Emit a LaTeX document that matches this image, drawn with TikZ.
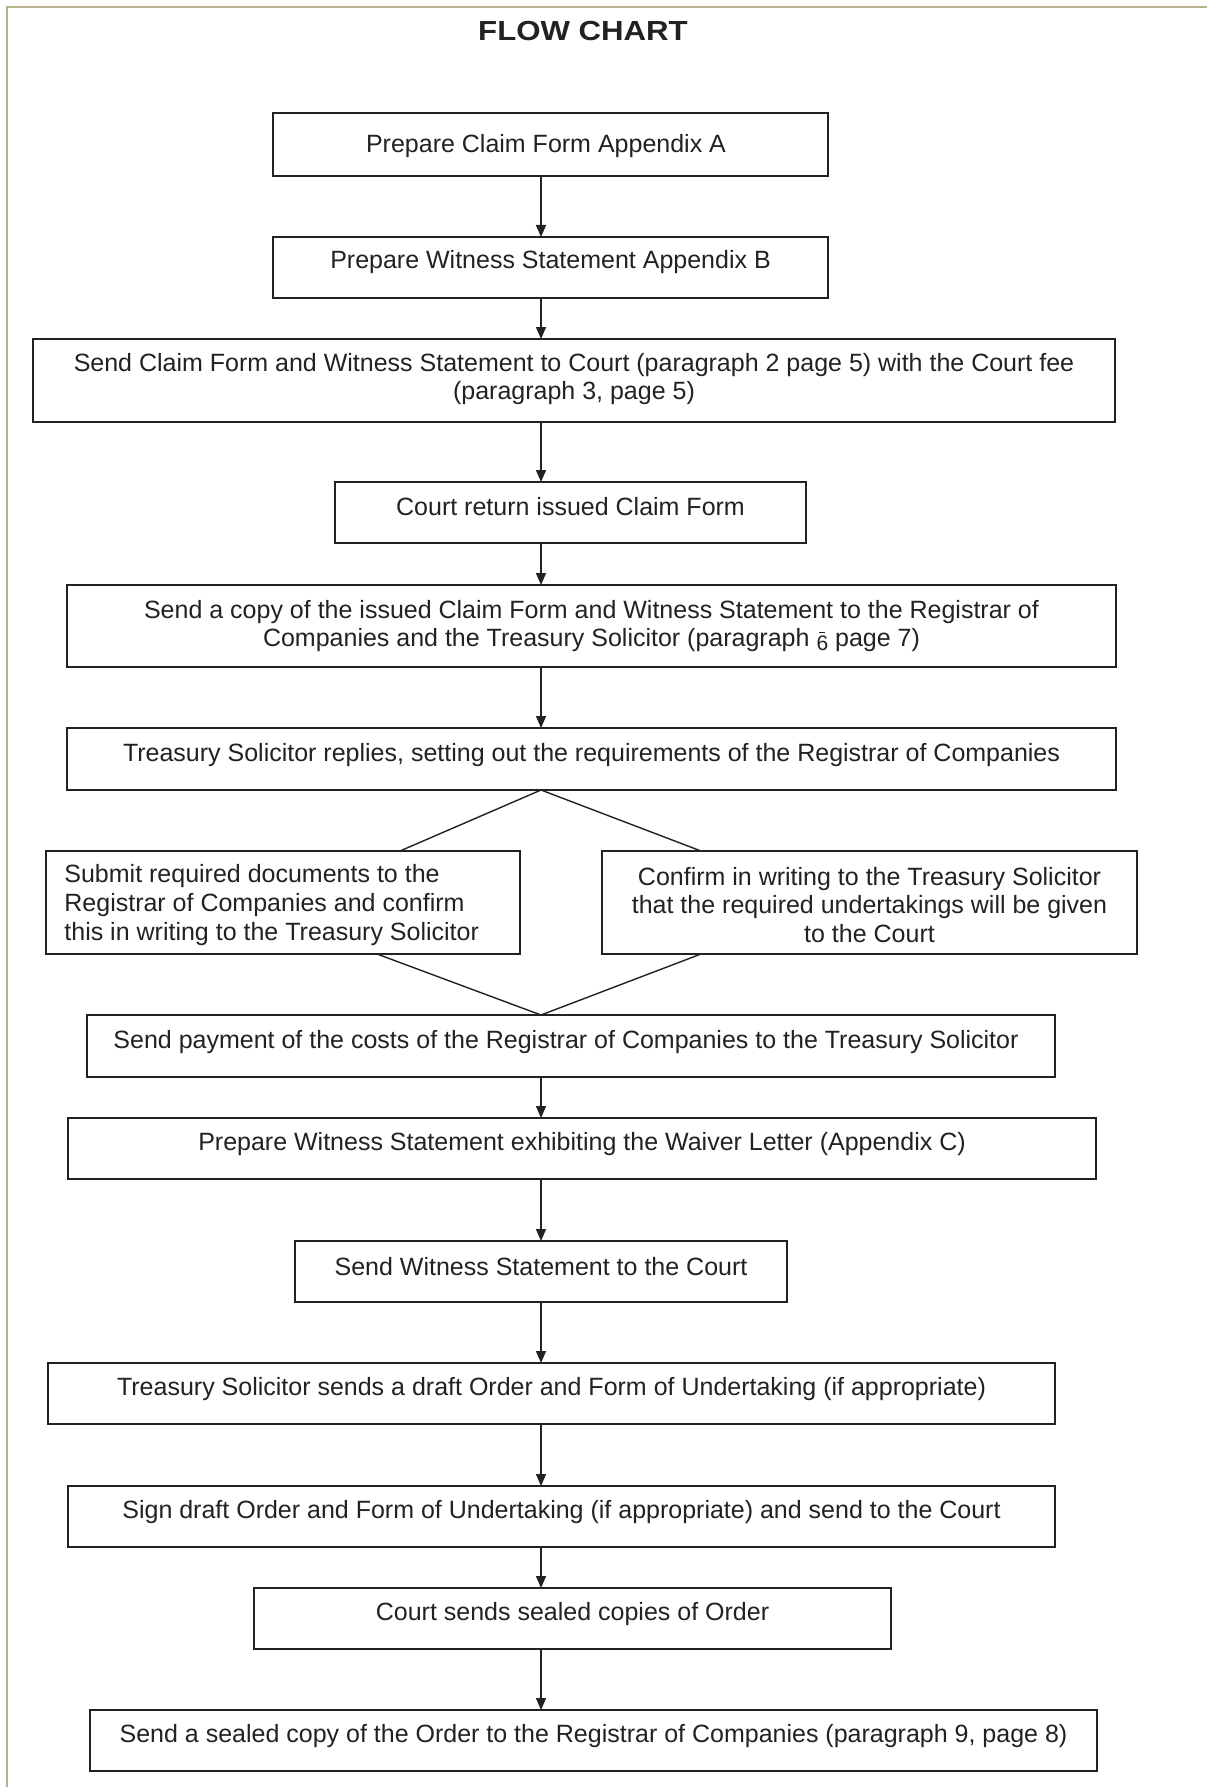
\documentclass[tikz,border=0pt]{standalone}
\usepackage{fontspec}
\setmainfont{Liberation Sans}
\usetikzlibrary{arrows.meta}
\definecolor{frame}{HTML}{B9B38D}
\definecolor{ink}{HTML}{222222}
\newcommand\barsix{\raisebox{-2pt}{\fontsize{10.5pt}{10.5pt}\selectfont\ooalign{6\cr\hidewidth\raisebox{9pt}{\rule{3pt}{0.5pt}}\hidewidth\cr}}}
\tikzset{
  box/.style={draw=ink, line width=1pt, inner sep=0pt, outer sep=0pt, fill=white},
  txt/.style={text=ink, inner sep=0pt, font=\fontsize{12.5pt}{14.3pt}\selectfont},
  conn/.style={draw=ink, line width=0.7pt},
  arr/.style={conn, -{Triangle[length=6pt,width=5pt]}}
}
\begin{document}
\begin{tikzpicture}[x=0.5pt,y=-0.5pt]
\useasboundingbox (0,0) rectangle (1207,1787);
\fill[white] (0,0) rectangle (1207,1787);
\draw[frame, line width=1.3pt] (7,1787) -- (7,7) -- (1207,7);

\node[text=ink, font=\fontsize{13.8pt}{16pt}\selectfont\bfseries] (title) at (583,31) {\scalebox{1.13}[1]{FLOW CHART}};

\coordinate (ax) at (541,0);
\coordinate (lt) at (400,0);
\coordinate (rt) at (701,0);
\coordinate (lb) at (377,0);

% boxes
\node[box, minimum width=277.5pt, minimum height=31.5pt] (b1) at (550.5,144.5) {};
\node[box, minimum width=277.5pt, minimum height=30.5pt] (b2) at (550.5,267.5) {};
\node[box, minimum width=541pt, minimum height=41.5pt] (b3) at (574,380.5) {};
\node[box, minimum width=235.5pt, minimum height=30.5pt] (b4) at (570.5,512.5) {};
\node[box, minimum width=524.5pt, minimum height=41pt] (b5) at (591.5,626) {};
\node[box, minimum width=524.5pt, minimum height=31pt] (b6) at (591.5,759) {};
\node[box, minimum width=237pt, minimum height=51.5pt] (b7a) at (283,902.5) {};
\node[box, minimum width=267.5pt, minimum height=51.5pt] (b7b) at (869.5,902.5) {};
\node[box, minimum width=484pt, minimum height=31pt] (b8) at (571,1046) {};
\node[box, minimum width=514pt, minimum height=30.5pt] (b9) at (582,1148.5) {};
\node[box, minimum width=246pt, minimum height=30.5pt] (b10) at (541,1271.5) {};
\node[box, minimum width=503.5pt, minimum height=30.5pt] (b11) at (551.5,1393.5) {};
\node[box, minimum width=493.5pt, minimum height=30.5pt] (b12) at (561.5,1516.5) {};
\node[box, minimum width=318.5pt, minimum height=30.5pt] (b13) at (572.5,1618.5) {};
\node[box, minimum width=503.5pt, minimum height=30.5pt] (b14) at (593.5,1740.5) {};

% texts
\node[txt] (t1) at (546,146) {Prepare Claim Form Appendix A};
\node[txt] (t2) at (550.5,262) {Prepare Witness Statement Appendix B};
\node[txt, align=center] (t3) at (574,379) {Send Claim Form and Witness Statement to Court (paragraph 2 page 5) with the Court fee\\(paragraph 3, page 5)};
\node[txt] (t4) at (570.5,507) {Court return issued Claim Form};
\node[txt, align=center] (t5) at (591.5,626) {Send a copy of the issued Claim Form and Witness Statement to the Registrar of\\Companies and the Treasury Solicitor (paragraph \barsix\ page 7)};
\node[txt] (t6) at (591.5,755) {Treasury Solicitor replies, setting out the requirements of the Registrar of Companies};
\node[txt, align=left, anchor=west] (t7a) at (64,905) {Submit required documents to the\\Registrar of Companies and confirm\\this in writing to the Treasury Solicitor};
\node[txt, align=center] (t7b) at (869.5,905) {Confirm in writing to the Treasury Solicitor\\that the required undertakings will be given\\to the Court};
\node[txt] (t8) at (566,1042) {Send payment of the costs of the Registrar of Companies to the Treasury Solicitor};
\node[txt] (t9) at (582,1144) {Prepare Witness Statement exhibiting the Waiver Letter (Appendix C)};
\node[txt] (t10) at (541,1267) {Send Witness Statement to the Court};
\node[txt] (t11) at (551.5,1389) {Treasury Solicitor sends a draft Order and Form of Undertaking (if appropriate)};
\node[txt] (t12) at (561.5,1512) {Sign draft Order and Form of Undertaking (if appropriate) and send to the Court};
\node[txt] (t13) at (572.5,1614) {Court sends sealed copies of Order};
\node[txt] (t14) at (593.5,1736) {Send a sealed copy of the Order to the Registrar of Companies (paragraph 9, page 8)};

% connectors
\draw[arr] (b1.south -| ax) -- (b2.north -| ax);
\draw[arr] (b2.south -| ax) -- (b3.north -| ax);
\draw[arr] (b3.south -| ax) -- (b4.north -| ax);
\draw[arr] (b4.south -| ax) -- (b5.north -| ax);
\draw[arr] (b5.south -| ax) -- (b6.north -| ax);
\draw[conn] (b7a.north -| lt) -- (b6.south -| ax) -- (b7b.north -| rt);
\draw[conn] (b7a.south -| lb) -- (b8.north -| ax) -- (b7b.south -| rt);
\draw[arr] (b8.south -| ax) -- (b9.north -| ax);
\draw[arr] (b9.south -| ax) -- (b10.north -| ax);
\draw[arr] (b10.south -| ax) -- (b11.north -| ax);
\draw[arr] (b11.south -| ax) -- (b12.north -| ax);
\draw[arr] (b12.south -| ax) -- (b13.north -| ax);
\draw[arr] (b13.south -| ax) -- (b14.north -| ax);
\end{tikzpicture}
\end{document}
